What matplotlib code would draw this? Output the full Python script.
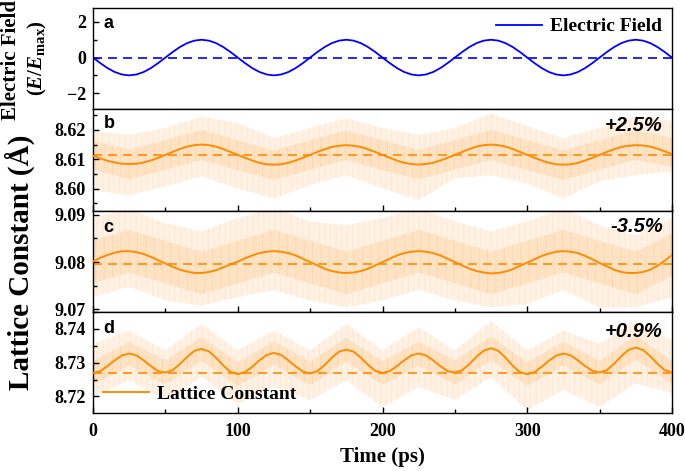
import numpy as np
import matplotlib
matplotlib.use("Agg")
import matplotlib.pyplot as plt
from matplotlib.ticker import MultipleLocator
from matplotlib.lines import Line2D

# ---------------- data ----------------
time_ps = np.arange(0, 401, 5)

electric_field = [
    0.00, -0.31, -0.59, -0.81, -0.95, -1.00, -0.95, -0.81, -0.59, -0.31,
    0.00, 0.31, 0.59, 0.81, 0.95, 1.00, 0.95, 0.81, 0.59, 0.31,
    0.00, -0.31, -0.59, -0.81, -0.95, -1.00, -0.95, -0.81, -0.59, -0.31,
    0.00, 0.31, 0.59, 0.81, 0.95, 1.00, 0.95, 0.81, 0.59, 0.31,
    0.00, -0.31, -0.59, -0.81, -0.95, -1.00, -0.95, -0.81, -0.59, -0.31,
    0.00, 0.31, 0.59, 0.81, 0.95, 1.00, 0.95, 0.81, 0.59, 0.31,
    0.00, -0.31, -0.59, -0.81, -0.95, -1.00, -0.95, -0.81, -0.59, -0.31,
    0.00, 0.31, 0.59, 0.81, 0.95, 1.00, 0.95, 0.81, 0.59, 0.31,
    0.00]

lattice_b = [
    8.6112, 8.6103, 8.6095, 8.6089, 8.6085, 8.6084, 8.6085, 8.6089, 8.6096, 8.6105,
    8.6115, 8.6125, 8.6135, 8.6143, 8.6148, 8.6150, 8.6148, 8.6143, 8.6135, 8.6125,
    8.6115, 8.6105, 8.6096, 8.6088, 8.6083, 8.6082, 8.6083, 8.6088, 8.6096, 8.6105,
    8.6115, 8.6125, 8.6134, 8.6142, 8.6146, 8.6148, 8.6146, 8.6142, 8.6134, 8.6125,
    8.6115, 8.6105, 8.6096, 8.6088, 8.6084, 8.6082, 8.6084, 8.6088, 8.6096, 8.6105,
    8.6115, 8.6125, 8.6135, 8.6143, 8.6148, 8.6150, 8.6148, 8.6143, 8.6135, 8.6125,
    8.6115, 8.6105, 8.6096, 8.6088, 8.6083, 8.6082, 8.6083, 8.6088, 8.6096, 8.6105,
    8.6115, 8.6125, 8.6134, 8.6142, 8.6146, 8.6148, 8.6147, 8.6143, 8.6136, 8.6127,
    8.6118]
dashed_b = 8.6113

lattice_c = [
    9.0801, 9.0809, 9.0815, 9.0820, 9.0823, 9.0823, 9.0821, 9.0817, 9.0811, 9.0804,
    9.0797, 9.0790, 9.0784, 9.0780, 9.0777, 9.0777, 9.0779, 9.0783, 9.0789, 9.0795,
    9.0801, 9.0808, 9.0814, 9.0819, 9.0822, 9.0823, 9.0822, 9.0819, 9.0814, 9.0807,
    9.0800, 9.0793, 9.0786, 9.0781, 9.0778, 9.0777, 9.0778, 9.0781, 9.0786, 9.0793,
    9.0800, 9.0807, 9.0814, 9.0819, 9.0822, 9.0823, 9.0822, 9.0819, 9.0814, 9.0807,
    9.0800, 9.0793, 9.0786, 9.0781, 9.0778, 9.0776, 9.0777, 9.0780, 9.0785, 9.0792,
    9.0799, 9.0806, 9.0813, 9.0818, 9.0822, 9.0823, 9.0822, 9.0819, 9.0813, 9.0806,
    9.0798, 9.0791, 9.0784, 9.0779, 9.0777, 9.0777, 9.0779, 9.0784, 9.0792, 9.0803,
    9.0815]
dashed_c = 9.0797

lattice_d = [
    8.7270, 8.7275, 8.7290, 8.7307, 8.7322, 8.7327, 8.7322, 8.7307, 8.7290, 8.7275,
    8.7271, 8.7278, 8.7296, 8.7317, 8.7335, 8.7341, 8.7334, 8.7315, 8.7292, 8.7273,
    8.7266, 8.7272, 8.7288, 8.7307, 8.7323, 8.7329, 8.7323, 8.7307, 8.7289, 8.7274,
    8.7268, 8.7275, 8.7293, 8.7315, 8.7333, 8.7339, 8.7333, 8.7315, 8.7294, 8.7276,
    8.7270, 8.7275, 8.7290, 8.7307, 8.7322, 8.7327, 8.7322, 8.7307, 8.7290, 8.7275,
    8.7271, 8.7278, 8.7296, 8.7318, 8.7336, 8.7343, 8.7335, 8.7315, 8.7291, 8.7272,
    8.7266, 8.7272, 8.7288, 8.7306, 8.7321, 8.7327, 8.7322, 8.7307, 8.7290, 8.7276,
    8.7271, 8.7278, 8.7297, 8.7319, 8.7338, 8.7345, 8.7338, 8.7319, 8.7297, 8.7278,
    8.7272]
dashed_d = 8.7271

# fluctuation envelopes (read every 25 ps)
env_t = np.arange(0, 401, 25)
b_outer_up = [8.6196, 8.6183, 8.6206, 8.6245, 8.6223, 8.6172, 8.6206, 8.6240, 8.6206,
              8.6183, 8.6206, 8.6255, 8.6213, 8.6172, 8.6206, 8.6247, 8.6230]
b_outer_lo = [8.5995, 8.5978, 8.6008, 8.6042, 8.6001, 8.5967, 8.6012, 8.6046, 8.6001,
              8.5961, 8.6035, 8.6046, 8.6018, 8.5967, 8.6025, 8.6046, 8.6059]
b_core_up = [8.6163, 8.6133, 8.6165, 8.6200, 8.6165, 8.6130, 8.6165, 8.6198, 8.6165,
             8.6132, 8.6165, 8.6200, 8.6165, 8.6130, 8.6165, 8.6198, 8.6172]
b_core_lo = [8.6065, 8.6032, 8.6065, 8.6098, 8.6063, 8.6030, 8.6065, 8.6098, 8.6063,
             8.6032, 8.6065, 8.6098, 8.6063, 8.6030, 8.6065, 8.6098, 8.6075]

c_outer_up = [9.0893, 9.0912, 9.0882, 9.0865, 9.0893, 9.0914, 9.0886, 9.0878, 9.0893,
              9.0914, 9.0886, 9.0865, 9.0886, 9.0914, 9.0878, 9.0857, 9.0893]
c_outer_lo = [9.0726, 9.0748, 9.0719, 9.0708, 9.0726, 9.0741, 9.0719, 9.0704, 9.0719,
              9.0741, 9.0719, 9.0704, 9.0712, 9.0741, 9.0704, 9.0704, 9.0726]
c_core_up = [9.0845, 9.0868, 9.0845, 9.0822, 9.0845, 9.0868, 9.0845, 9.0822, 9.0845,
             9.0868, 9.0845, 9.0822, 9.0845, 9.0868, 9.0845, 9.0822, 9.0860]
c_core_lo = [9.0755, 9.0778, 9.0755, 9.0732, 9.0755, 9.0778, 9.0755, 9.0732, 9.0755,
             9.0778, 9.0755, 9.0732, 9.0755, 9.0778, 9.0755, 9.0732, 9.0770]

d_outer_up = [8.7356, 8.7395, 8.7336, 8.7415, 8.7336, 8.7395, 8.7336, 8.7415, 8.7336,
              8.7405, 8.7336, 8.7424, 8.7336, 8.7395, 8.7356, 8.7424, 8.7366]
d_outer_lo = [8.7199, 8.7248, 8.7189, 8.7258, 8.7179, 8.7228, 8.7189, 8.7248, 8.7169,
              8.7228, 8.7189, 8.7258, 8.7160, 8.7219, 8.7169, 8.7239, 8.7210]
d_core_up = [8.7305, 8.7362, 8.7306, 8.7376, 8.7301, 8.7364, 8.7303, 8.7374, 8.7305,
             8.7362, 8.7306, 8.7378, 8.7301, 8.7362, 8.7306, 8.7380, 8.7307]
d_core_lo = [8.7235, 8.7292, 8.7236, 8.7306, 8.7231, 8.7294, 8.7233, 8.7304, 8.7235,
             8.7292, 8.7236, 8.7308, 8.7231, 8.7292, 8.7236, 8.7310, 8.7237]

strain_labels = ["+2.5%", "-3.5%", "+0.9%"]
panel_letters = ["a", "b", "c", "d"]

# ---------------- style ----------------
SERIF = "Liberation Serif"
SANS = "Liberation Sans"
plt.rcParams["font.family"] = [SERIF, "DejaVu Serif"]
plt.rcParams["font.weight"] = "bold"
plt.rcParams["mathtext.fontset"] = "custom"
plt.rcParams["mathtext.rm"] = "Liberation Serif:bold"
plt.rcParams["mathtext.it"] = "Liberation Serif:italic:bold"
plt.rcParams["mathtext.bf"] = "Liberation Serif:bold"
plt.rcParams["hatch.linewidth"] = 0.5

BLUE = "#0000ff"
ORANGE = "#ff8c00"
OUTER = "#fff1e4"
OUTER_HATCH = "#fee3c8"
CORE = "#fee2c4"
CORE_HATCH = "#fdd2a6"

fig = plt.figure(figsize=(6.85, 4.71), dpi=100)
gs = fig.add_gridspec(4, 1, left=0.1358, right=0.981, bottom=0.1231, top=0.983, hspace=0)
axes = [fig.add_subplot(gs[i]) for i in range(4)]

for ax in axes:
    ax.set_xlim(0, 400)
    for s in ax.spines.values():
        s.set_linewidth(1.0)
    ax.tick_params(axis="both", which="both", direction="in", labelsize=13,
                   width=1.0)
    ax.tick_params(axis="both", which="major", length=4)
    ax.tick_params(axis="both", which="minor", length=3)
    ax.tick_params(axis="y", pad=5)
    ax.tick_params(axis="x", pad=7)
    ax.xaxis.set_major_locator(MultipleLocator(100))
    ax.xaxis.set_minor_locator(MultipleLocator(50))

# panel a
ax = axes[0]
ax.plot(time_ps, electric_field, color=BLUE, lw=1.3, label="Electric Field")
ax.axhline(0, color=BLUE, lw=1.2, dashes=(5.4, 3.6))
ax.set_ylim(-2.9, 2.78)
ax.yaxis.set_major_locator(MultipleLocator(2))
ax.yaxis.set_minor_locator(MultipleLocator(1))
ax.tick_params(axis="x", which="both", length=0, labelbottom=False)
ax.legend(loc="upper right", frameon=False, handlelength=2.4, handletextpad=0.4,
          borderaxespad=0.1, prop={"family": SERIF, "weight": "bold", "size": 14})

# panels b-d
series = [
    (axes[1], lattice_b, dashed_b, b_outer_up, b_outer_lo, b_core_up, b_core_lo,
     (8.5926, 8.627)),
    (axes[2], lattice_c, dashed_c, c_outer_up, c_outer_lo, c_core_up, c_core_lo,
     (9.0695, 9.0909)),
    (axes[3], lattice_d, dashed_d, d_outer_up, d_outer_lo, d_core_up, d_core_lo,
     (8.7151, 8.7451)),
]
for ax, ys, dash, ou, ol, cu, cl, ylim in series:
    ax.fill_between(env_t, ol, ou, facecolor=OUTER, edgecolor=OUTER_HATCH, hatch="|||",
                    lw=0, zorder=1)
    ax.fill_between(env_t, cl, cu, facecolor=CORE, edgecolor=CORE_HATCH, hatch="||",
                    lw=0, zorder=1.5)
    ax.plot(time_ps, ys, color=ORANGE, lw=1.4, zorder=3)
    ax.axhline(dash, color=ORANGE, lw=1.2, dashes=(5.4, 3.6), zorder=2.5)
    ax.set_ylim(*ylim)
    ax.yaxis.set_major_locator(MultipleLocator(0.01))
    ax.yaxis.set_minor_locator(MultipleLocator(0.005))
    ax.yaxis.set_major_formatter(matplotlib.ticker.FormatStrFormatter("%.2f"))

for ax in axes[1:3]:
    ax.tick_params(axis="x", labelbottom=False)

axes[3].legend(handles=[Line2D([], [], color=ORANGE, lw=1.4)], labels=["Lattice Constant"],
               loc="lower left", frameon=False, handlelength=2.4, handletextpad=0.4,
               borderaxespad=0.1, prop={"family": SERIF, "weight": "bold", "size": 14})

for ax in axes:
    for lab in ax.get_yticklabels() + ax.get_xticklabels():
        lab.set_fontweight("bold")

# panel letters
letter_y = [0.85, 0.86, 0.83, 0.83]
for ax, letter, ly in zip(axes, panel_letters, letter_y):
    ax.text(0.018, ly, letter, transform=ax.transAxes, ha="left", va="center",
            fontsize=13, fontweight="bold", family=SANS, zorder=5)

# strain labels
strain_y = [0.84, 0.84, 0.81]
for ax, txt, sy in zip(axes[1:], strain_labels, strain_y):
    ax.text(0.984, sy, txt, transform=ax.transAxes, ha="right", va="center",
            fontsize=14.5, fontweight="bold", fontstyle="italic", family=SANS, zorder=5)

# axis labels
fig.text(11 / 685, 1 - 60 / 471, "Electric Field", rotation=90, ha="center", va="center",
         fontsize=15, fontweight="bold", family=SERIF)
fig.text(37 / 685, 1 - 58 / 471, r"$(E/E_{\mathrm{max}})$", rotation=90, ha="center",
         va="center", fontsize=15)
fig.text(20 / 685, 1 - 262 / 471, "Lattice Constant (Å)", rotation=90, ha="center",
         va="center", fontsize=21, fontweight="bold", family=SERIF)
fig.text(382 / 685, 1 - 457 / 471, "Time (ps)", ha="center", va="center",
         fontsize=15, fontweight="bold", family=SERIF)

fig.savefig("out.png", dpi=100)
